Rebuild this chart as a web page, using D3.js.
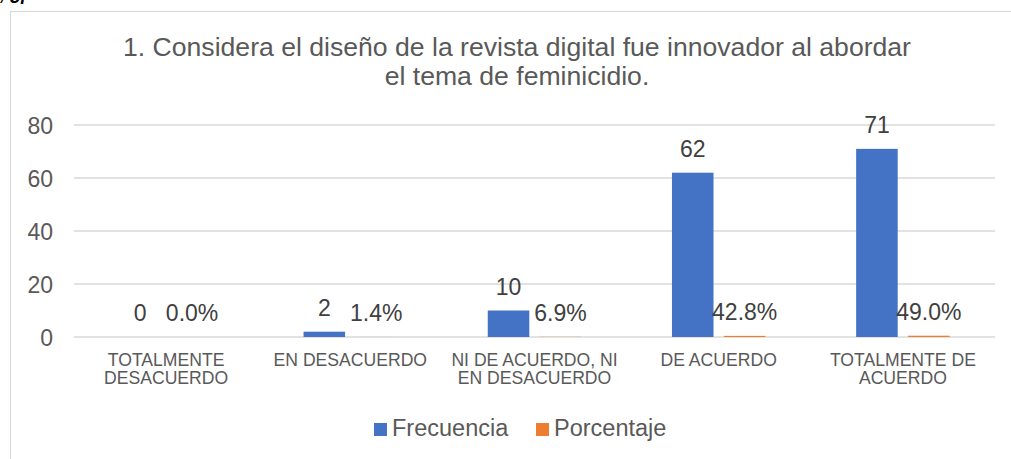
<!DOCTYPE html>
<html lang="es">

<head>
	<meta charset="utf-8">
	<title>Frecuencia y porcentaje</title>
	<script src="https://d3js.org/d3.v7.min.js"></script>
	<style type="text/css">
		body {
			margin: 0;
			background: #fff;
		}

		svg text {
			font-family: "Liberation Sans", Arial, sans-serif;
			fill: #595959;
		}
	</style>
</head>

<body>

	<script type="text/javascript">

		//Datos
		var categorias = ["TOTALMENTE DESACUERDO", "EN DESACUERDO", "NI DE ACUERDO, NI EN DESACUERDO", "DE ACUERDO", "TOTALMENTE DE ACUERDO"];
		var etiquetas = [["TOTALMENTE", "DESACUERDO"], ["EN DESACUERDO"], ["NI DE ACUERDO, NI", "EN DESACUERDO"], ["DE ACUERDO"], ["TOTALMENTE DE", "ACUERDO"]];
		var series = ["Frecuencia", "Porcentaje"];
		var frecuencia = [0, 2, 10, 62, 71];
		var porcentaje = [0.000, 0.014, 0.069, 0.428, 0.490];
		var yTicks = [0, 20, 40, 60, 80];
		var titulo = ["1. Considera el diseño de la revista digital fue innovador al abordar", "el tema de feminicidio."];

		var colores = { "Frecuencia": "#4472C4", "Porcentaje": "#ED7D31" };

		//Width and height
		var w = 1011;
		var h = 459;

		var svg = d3.select("body")
			.append("svg")
			.attr("width", w)
			.attr("height", h);

		//Texto cortado arriba (solo se ven los trazos inferiores)
		svg.append("text")
			.attr("x", 0)
			.attr("y", 0)
			.attr("font-size", "18px")
			.attr("font-style", "italic")
			.attr("font-weight", "bold")
			.style("fill", "#000")
			.text(", ¿p");

		//Borde del grafico
		svg.append("rect")
			.attr("x", 10.5)
			.attr("y", 11.5)
			.attr("width", 1030)
			.attr("height", 500)
			.attr("fill", "none")
			.attr("stroke", "#d9d9d9")
			.attr("stroke-width", 1.2);

		//Titulo
		svg.selectAll("text.titulo")
			.data(titulo)
			.enter()
			.append("text")
			.attr("class", "titulo")
			.attr("x", 517)
			.attr("y", function (d, i) { return 56 + i * 29; })
			.attr("text-anchor", "middle")
			.attr("font-size", "26.6px")
			.text(function (d) { return d; });

		//Scales
		var xScale = d3.scaleBand()
			.domain(categorias)
			.range([74, 995]);

		var grupo = 93.5;
		var xSub = d3.scaleBand()
			.domain(series)
			.range([-grupo / 2, grupo / 2])
			.paddingInner(0.2);

		var yScale = d3.scaleLinear()
			.domain([0, 80])
			.range([337, 125]);

		//Gridlines
		svg.append("g")
			.selectAll("line")
			.data(yTicks)
			.enter()
			.append("line")
			.attr("x1", 74)
			.attr("x2", 995)
			.attr("y1", function (d) { return yScale(d); })
			.attr("y2", function (d) { return yScale(d); })
			.attr("stroke", "#d9d9d9")
			.attr("stroke-width", 1.3);

		//Y axis
		var yAxis = d3.axisLeft(yScale)
			.tickValues(yTicks)
			.tickSize(0)
			.tickPadding(0);

		var gy = svg.append("g")
			.attr("transform", "translate(53,0)")
			.call(yAxis);
		gy.select(".domain").remove();
		gy.selectAll("text")
			.attr("font-size", "23px")
			.attr("font-family", null)
			.attr("fill", null)
			.attr("dy", "0.35em");

		//Barras
		var filas = categorias.map(function (c, i) {
			return [
				{ cat: c, serie: "Frecuencia", valor: frecuencia[i], texto: String(frecuencia[i]) },
				{ cat: c, serie: "Porcentaje", valor: porcentaje[i], texto: (porcentaje[i] * 100).toFixed(1) + "%" }
			];
		});

		var grupos = svg.selectAll("g.cat")
			.data(filas)
			.enter()
			.append("g")
			.attr("class", "cat")
			.attr("transform", function (d) {
				return "translate(" + (xScale(d[0].cat) + xScale.bandwidth() / 2) + ",0)";
			});

		grupos.selectAll("rect")
			.data(function (d) { return d; })
			.enter()
			.append("rect")
			.attr("x", function (d) { return xSub(d.serie); })
			.attr("width", xSub.bandwidth())
			.attr("y", function (d) { return yScale(d.valor); })
			.attr("height", function (d) { return yScale(0) - yScale(d.valor); })
			.attr("fill", function (d) { return colores[d.serie]; });

		grupos.selectAll("text")
			.data(function (d) { return d; })
			.enter()
			.append("text")
			.attr("x", function (d) { return xSub(d.serie) + xSub.bandwidth() / 2; })
			.attr("y", function (d) { return yScale(d.valor) - 16; })
			.attr("text-anchor", "middle")
			.attr("font-size", "23px")
			.style("fill", "#404040")
			.text(function (d) { return d.texto; });

		//Etiquetas de categoria
		svg.selectAll("text.cat")
			.data(categorias)
			.enter()
			.append("text")
			.attr("class", "cat")
			.attr("text-anchor", "middle")
			.attr("font-size", "17.6px")
			.each(function (c, i) {
				var t = d3.select(this);
				etiquetas[i].forEach(function (linea, j) {
					t.append("tspan")
						.attr("x", xScale(c) + xScale.bandwidth() / 2)
						.attr("y", 366 + j * 18)
						.text(linea);
				});
			});

		//Leyenda
		var leyendaX = [374, 536];
		var leyenda = svg.selectAll("g.leyenda")
			.data(series)
			.enter()
			.append("g")
			.attr("class", "leyenda")
			.attr("transform", function (d, i) { return "translate(" + leyendaX[i] + ",423)"; });

		leyenda.append("rect")
			.attr("width", 13)
			.attr("height", 13)
			.attr("fill", function (d) { return colores[d]; });

		leyenda.append("text")
			.attr("x", 18)
			.attr("y", 13)
			.attr("font-size", "23.5px")
			.text(function (d) { return d; });

	</script>
</body>

</html>
